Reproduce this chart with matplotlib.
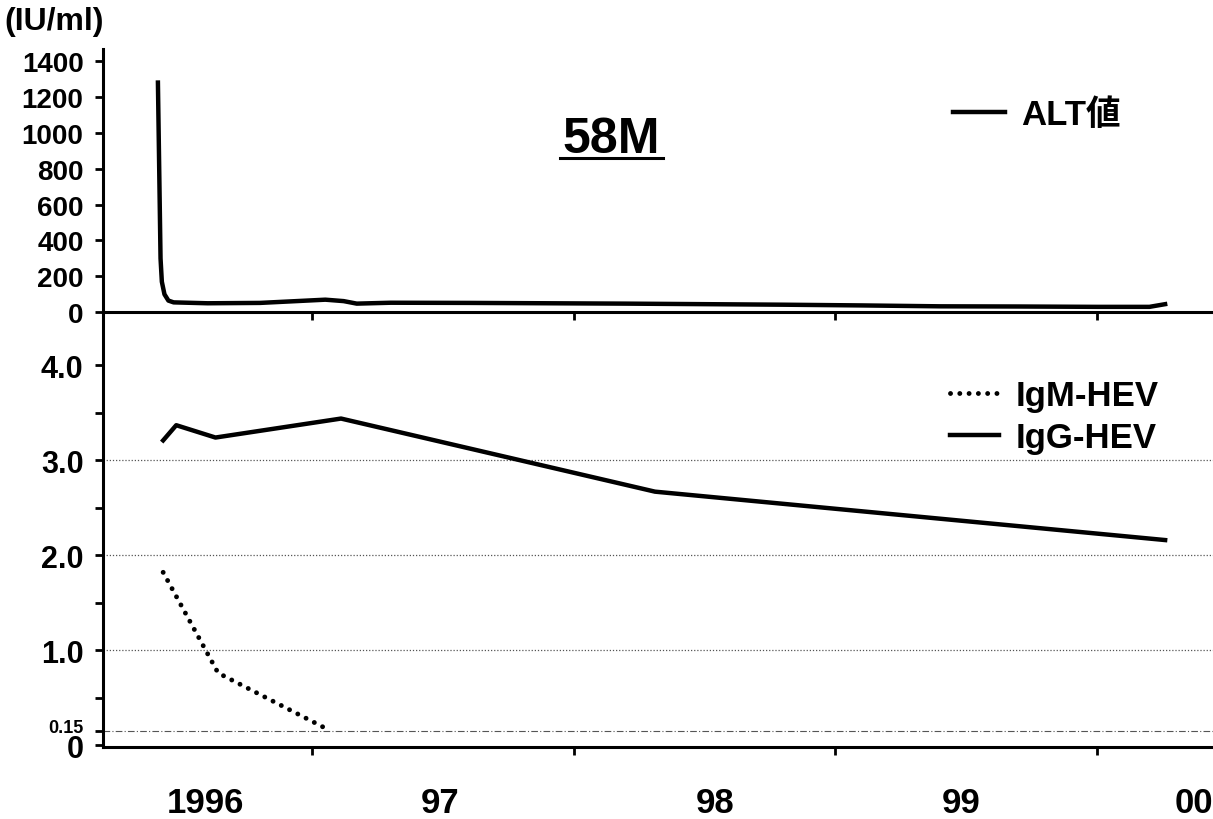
import matplotlib
matplotlib.use('Agg')
import matplotlib.pyplot as plt
from matplotlib.lines import Line2D
from matplotlib.transforms import ScaledTranslation

plt.rcParams['font.family'] = ['Liberation Sans', 'Noto Sans CJK JP', 'DejaVu Sans']
plt.rcParams['font.weight'] = 'bold'

# ALT (IU/ml), x in decimal years
alt_x = [1996.41, 1996.42, 1996.425, 1996.435, 1996.45, 1996.47, 1996.6, 1996.8,
         1997.05, 1997.12, 1997.17, 1997.3, 1997.6, 1997.9, 1998.2, 1998.5,
         1998.8, 1999.1, 1999.4, 1999.7, 2000.0, 2000.2, 2000.26]
alt_y = [1280, 300, 170, 100, 65, 55, 50, 52,
         70, 62, 48, 53, 52, 50, 48, 45,
         42, 38, 33, 32, 30, 30, 45]

# HEV antibodies
igm_x = [1996.43, 1996.64, 1997.07]
igm_y = [1.82, 0.76, 0.15]
igg_x = [1996.43, 1996.48, 1996.63, 1997.11, 1998.31, 2000.26]
igg_y = [3.21, 3.37, 3.24, 3.44, 2.67, 2.16]

year_ticks = [1997, 1998, 1999, 2000]
year_labels = ['1996', '97', '98', '99', '00']
year_label_pos = [1996.59, 1997.49, 1998.54, 1999.48, 2000.37]

alt_ticks = list(range(0, 1401, 200))
hev_ticks = [0, 0.15, 1.0, 2.0, 3.0, 4.0]
hev_ticklabels = ['0', '0.15', '1.0', '2.0', '3.0', '4.0']
hev_minor = [0.5, 1.5, 2.5, 3.5]
grid_levels = [1.0, 2.0, 3.0]
cutoff = 0.15

fig = plt.figure(figsize=(12.13, 8.2), dpi=100)
ax1 = fig.add_axes([0.0849, 0.618, 0.9151, 0.321])
ax2 = fig.add_axes([0.0849, 0.0878, 0.9151, 0.5302])
ax1.set_zorder(3)

for ax in (ax1, ax2):
    ax.patch.set_visible(False)
    ax.spines['top'].set_visible(False)
    ax.spines['right'].set_visible(False)
    ax.spines['left'].set_linewidth(2.2)
    ax.spines['bottom'].set_linewidth(2.2)
    ax.set_xlim(1996.2, 2000.443)
    ax.set_xticks(year_ticks)
    ax.tick_params(axis='both', which='both', direction='out', width=2, length=6,
                   labelsize=20, pad=8)

# top panel: ALT
ax1.plot(alt_x, alt_y, color='black', lw=3.2, solid_joinstyle='round', label='ALT値')
ax1.set_ylim(0, 1467)
ax1.set_yticks(alt_ticks)
ax1.tick_params(axis='x', labelbottom=False)
ax1.legend(loc='upper left', bbox_to_anchor=(953 / 1213, 1 - 99 / 820),
           bbox_transform=fig.transFigure, frameon=False, fontsize=25,
           handlelength=1.5, handletextpad=0.45, borderpad=0, borderaxespad=0)

# bottom panel: IgM / IgG
for lvl in grid_levels:
    ax2.axhline(lvl, color='#555555', lw=0.9, ls=(0, (1, 1.5)))
ax2.axhline(cutoff, color='#555555', lw=0.8, ls=(0, (6, 2, 1, 2)))
ax2.plot(igm_x, igm_y, color='black', lw=3.5, ls=(0, (0.01, 1.9)),
         dash_capstyle='round', label='IgM-HEV')
ax2.plot(igg_x, igg_y, color='black', lw=3.2, solid_joinstyle='round', label='IgG-HEV')
ax2.set_ylim(-0.02, 4.56)
ax2.set_yticks(hev_ticks)
ax2.set_yticklabels(hev_ticklabels)
ax2.set_yticks(hev_minor, minor=True)
ax2.tick_params(axis='y', labelsize=22)
small = ax2.get_yticklabels()[1]
small.set_fontsize(13)
small.set_transform(small.get_transform() + ScaledTranslation(0, 4 / 72, fig.dpi_scale_trans))
ax2.set_xticks(year_label_pos, minor=True)
ax2.set_xticklabels(year_labels, minor=True)
ax2.tick_params(axis='x', which='major', labelbottom=False)
ax2.tick_params(axis='x', which='minor', length=0, labelsize=25, pad=28)
ax2.legend(loc='upper left', bbox_to_anchor=(950 / 1213, 1 - 380 / 820),
           bbox_transform=fig.transFigure, frameon=False, fontsize=25,
           handlelength=1.4, handletextpad=0.5, labelspacing=0.25,
           borderpad=0, borderaxespad=0)

# titles
fig.text(611 / 1213, 1 - 153 / 820, '58M', ha='center', va='baseline', fontsize=36)
fig.add_artist(Line2D([560 / 1213, 663 / 1213], [1 - 159 / 820] * 2, color='black', lw=2.2))
fig.text(4 / 1213, 1 - 22 / 820, '(IU/ml)', ha='left', va='center', fontsize=23)

fig.savefig('out.png', dpi=100)
